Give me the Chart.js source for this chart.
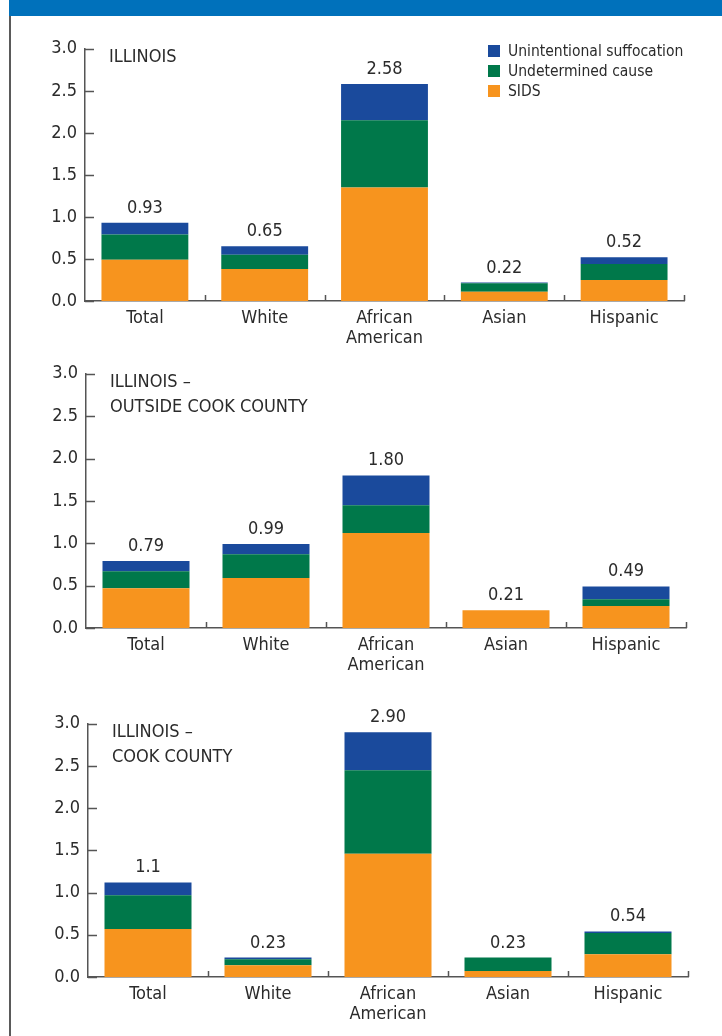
<!DOCTYPE html>
<html>
<head>
<meta charset="utf-8">
<script src="https://cdn.jsdelivr.net/npm/chart.js@4.4.1/dist/chart.umd.min.js"></script>
<style>
  body { margin: 0; background: #fff; width: 722px; height: 1036px; overflow: hidden; position: relative; font-family: 'Liberation Sans Narrow', 'DejaVu Sans Condensed', sans-serif; }
  .band { position: absolute; left: 9px; top: 0; width: 713px; height: 16px; background: #0071bb; }
  .frame { position: absolute; left: 9px; top: 16px; width: 2px; height: 1020px; background: #5a5a5a; }
  canvas { position: absolute; left: 0; }
  .legend { position: absolute; left: 488px; top: 41px; color: #2b2b2b; font-size: 15.5px; }
  .legend div { height: 20px; line-height: 20px; position: relative; padding-left: 20px; white-space: nowrap; }
  .legend span { position: absolute; left: 0; top: 4px; width: 12px; height: 12px; }
</style>
</head>
<body>
<div class="band"></div>
<div class="frame"></div>
<canvas id="grafik1" width="722" height="320" style="top:30px"></canvas>
<canvas id="grafik2" width="722" height="320" style="top:355px"></canvas>
<canvas id="grafik3" width="722" height="331" style="top:705px"></canvas>
<div class="legend">
  <div><span style="background:#1a4a9c"></span>Unintentional suffocation</div>
  <div><span style="background:#00784a"></span>Undetermined cause</div>
  <div><span style="background:#f7941e"></span>SIDS</div>
</div>
<script>
// Data
var categories = ["Total", "White", ["African", "American"], "Asian", "Hispanic"];
var yTicks = [0, 0.5, 1.0, 1.5, 2.0, 2.5, 3.0];

// Illinois
var illSids = [0.49, 0.38, 1.35, 0.11, 0.25];
var illUndet = [0.30, 0.17, 0.80, 0.10, 0.19];
var illSuff = [0.14, 0.10, 0.43, 0.01, 0.08];
var illTotals = ["0.93", "0.65", "2.58", "0.22", "0.52"];

// Illinois - outside Cook County
var outSids = [0.47, 0.59, 1.12, 0.21, 0.26];
var outUndet = [0.20, 0.28, 0.33, 0, 0.08];
var outSuff = [0.12, 0.12, 0.35, 0, 0.15];
var outTotals = ["0.79", "0.99", "1.80", "0.21", "0.49"];

// Illinois - Cook County
var cookSids = [0.57, 0.14, 1.46, 0.07, 0.27];
var cookUndet = [0.40, 0.07, 0.99, 0.16, 0.25];
var cookSuff = [0.15, 0.02, 0.45, 0, 0.02];
var cookTotals = ["1.1", "0.23", "2.90", "0.23", "0.54"];

var warnaSids = "#f7941e";
var warnaUndet = "#00784a";
var warnaSuff = "#1a4a9c";
var warnaAxis = "#555555";
var warnaText = "#2b2b2b";
var fontName = "'Liberation Sans Narrow', 'DejaVu Sans Condensed', sans-serif";

// plugin: ticks ke dalam, total di atas bar, judul
var overlay = {
    id: "overlay",
    afterDatasetsDraw: function (chart, args, opts) {
        var ctx = chart.ctx;
        var area = chart.chartArea;
        var x = chart.scales.x;
        var y = chart.scales.y;
        ctx.save();
        ctx.strokeStyle = warnaAxis;
        ctx.lineWidth = 1.5;
        ctx.beginPath();
        y.ticks.forEach(function (t, i) {
            var py = Math.round(y.getPixelForTick(i)) + 0.5;
            ctx.moveTo(area.left, py);
            ctx.lineTo(area.left + 9, py);
        });
        var half = (x.getPixelForValue(1) - x.getPixelForValue(0)) / 2;
        for (var i = 0; i < categories.length; i++) {
            var px = Math.round(x.getPixelForValue(i) + half) + 0.5;
            ctx.moveTo(px, area.bottom);
            ctx.lineTo(px, area.bottom - 6);
        }
        ctx.stroke();

        ctx.fillStyle = warnaText;
        ctx.font = "18px " + fontName;
        ctx.textAlign = "center";
        ctx.textBaseline = "alphabetic";
        for (var j = 0; j < categories.length; j++) {
            var sum = 0;
            chart.data.datasets.forEach(function (ds) { sum += ds.data[j]; });
            ctx.fillText(opts.totals[j], x.getPixelForValue(j), y.getPixelForValue(sum) - 10);
        }

        ctx.textAlign = "left";
        ctx.textBaseline = "middle";
        opts.title.forEach(function (line, k) {
            ctx.fillText(line, area.left + 24, area.top + 9 + k * 25);
        });
        ctx.restore();
    }
};

function buatChart(id, sids, undet, suff, totals, title, areaTop, areaBottom, areaLeft, areaRight) {
    var canvas = document.getElementById(id);
    var tinggi = canvas.height;
    return new Chart(canvas.getContext("2d"), {
        type: "bar",
        data: {
            labels: categories,
            datasets: [
                { label: "SIDS", data: sids, backgroundColor: warnaSids },
                { label: "Undetermined cause", data: undet, backgroundColor: warnaUndet },
                { label: "Unintentional suffocation", data: suff, backgroundColor: warnaSuff }
            ]
        },
        options: {
            responsive: false,
            animation: false,
            layout: { padding: { top: areaTop, right: 722 - areaRight, left: 0, bottom: 0 } },
            datasets: { bar: { barPercentage: 0.725, categoryPercentage: 1, borderWidth: 0 } },
            plugins: {
                legend: { display: false },
                tooltip: { enabled: false },
                overlay: { totals: totals, title: title }
            },
            scales: {
                x: {
                    stacked: true,
                    grid: { display: false, drawTicks: false },
                    border: { display: true, color: warnaAxis, width: 1.5 },
                    ticks: { color: warnaText, padding: 7, font: { family: fontName, size: 18, lineHeight: 1.12 } },
                    afterFit: function (scale) { scale.height = tinggi - areaBottom; }
                },
                y: {
                    stacked: true,
                    min: 0,
                    max: 3,
                    afterBuildTicks: function (scale) {
                        scale.ticks = yTicks.map(function (v) { return { value: v }; });
                    },
                    grid: { display: false, drawTicks: false },
                    border: { display: true, color: warnaAxis, width: 1.5 },
                    ticks: {
                        color: warnaText,
                        padding: 8,
                        font: { family: fontName, size: 18 },
                        callback: function (v) { return Number(v).toFixed(1); }
                    },
                    afterFit: function (scale) { scale.width = areaLeft; }
                }
            }
        },
        plugins: [overlay]
    });
}

// canvas 1 top 30, canvas 2 top 355, canvas 3 top 705
buatChart("grafik1", illSids, illUndet, illSuff, illTotals, ["ILLINOIS"], 16, 271, 85, 684);
buatChart("grafik2", outSids, outUndet, outSuff, outTotals, ["ILLINOIS \u2013", "OUTSIDE COOK COUNTY"], 18, 273, 86, 686);
buatChart("grafik3", cookSids, cookUndet, cookSuff, cookTotals, ["ILLINOIS \u2013", "COOK COUNTY"], 18, 272, 88, 688);
</script>
</body>
</html>
